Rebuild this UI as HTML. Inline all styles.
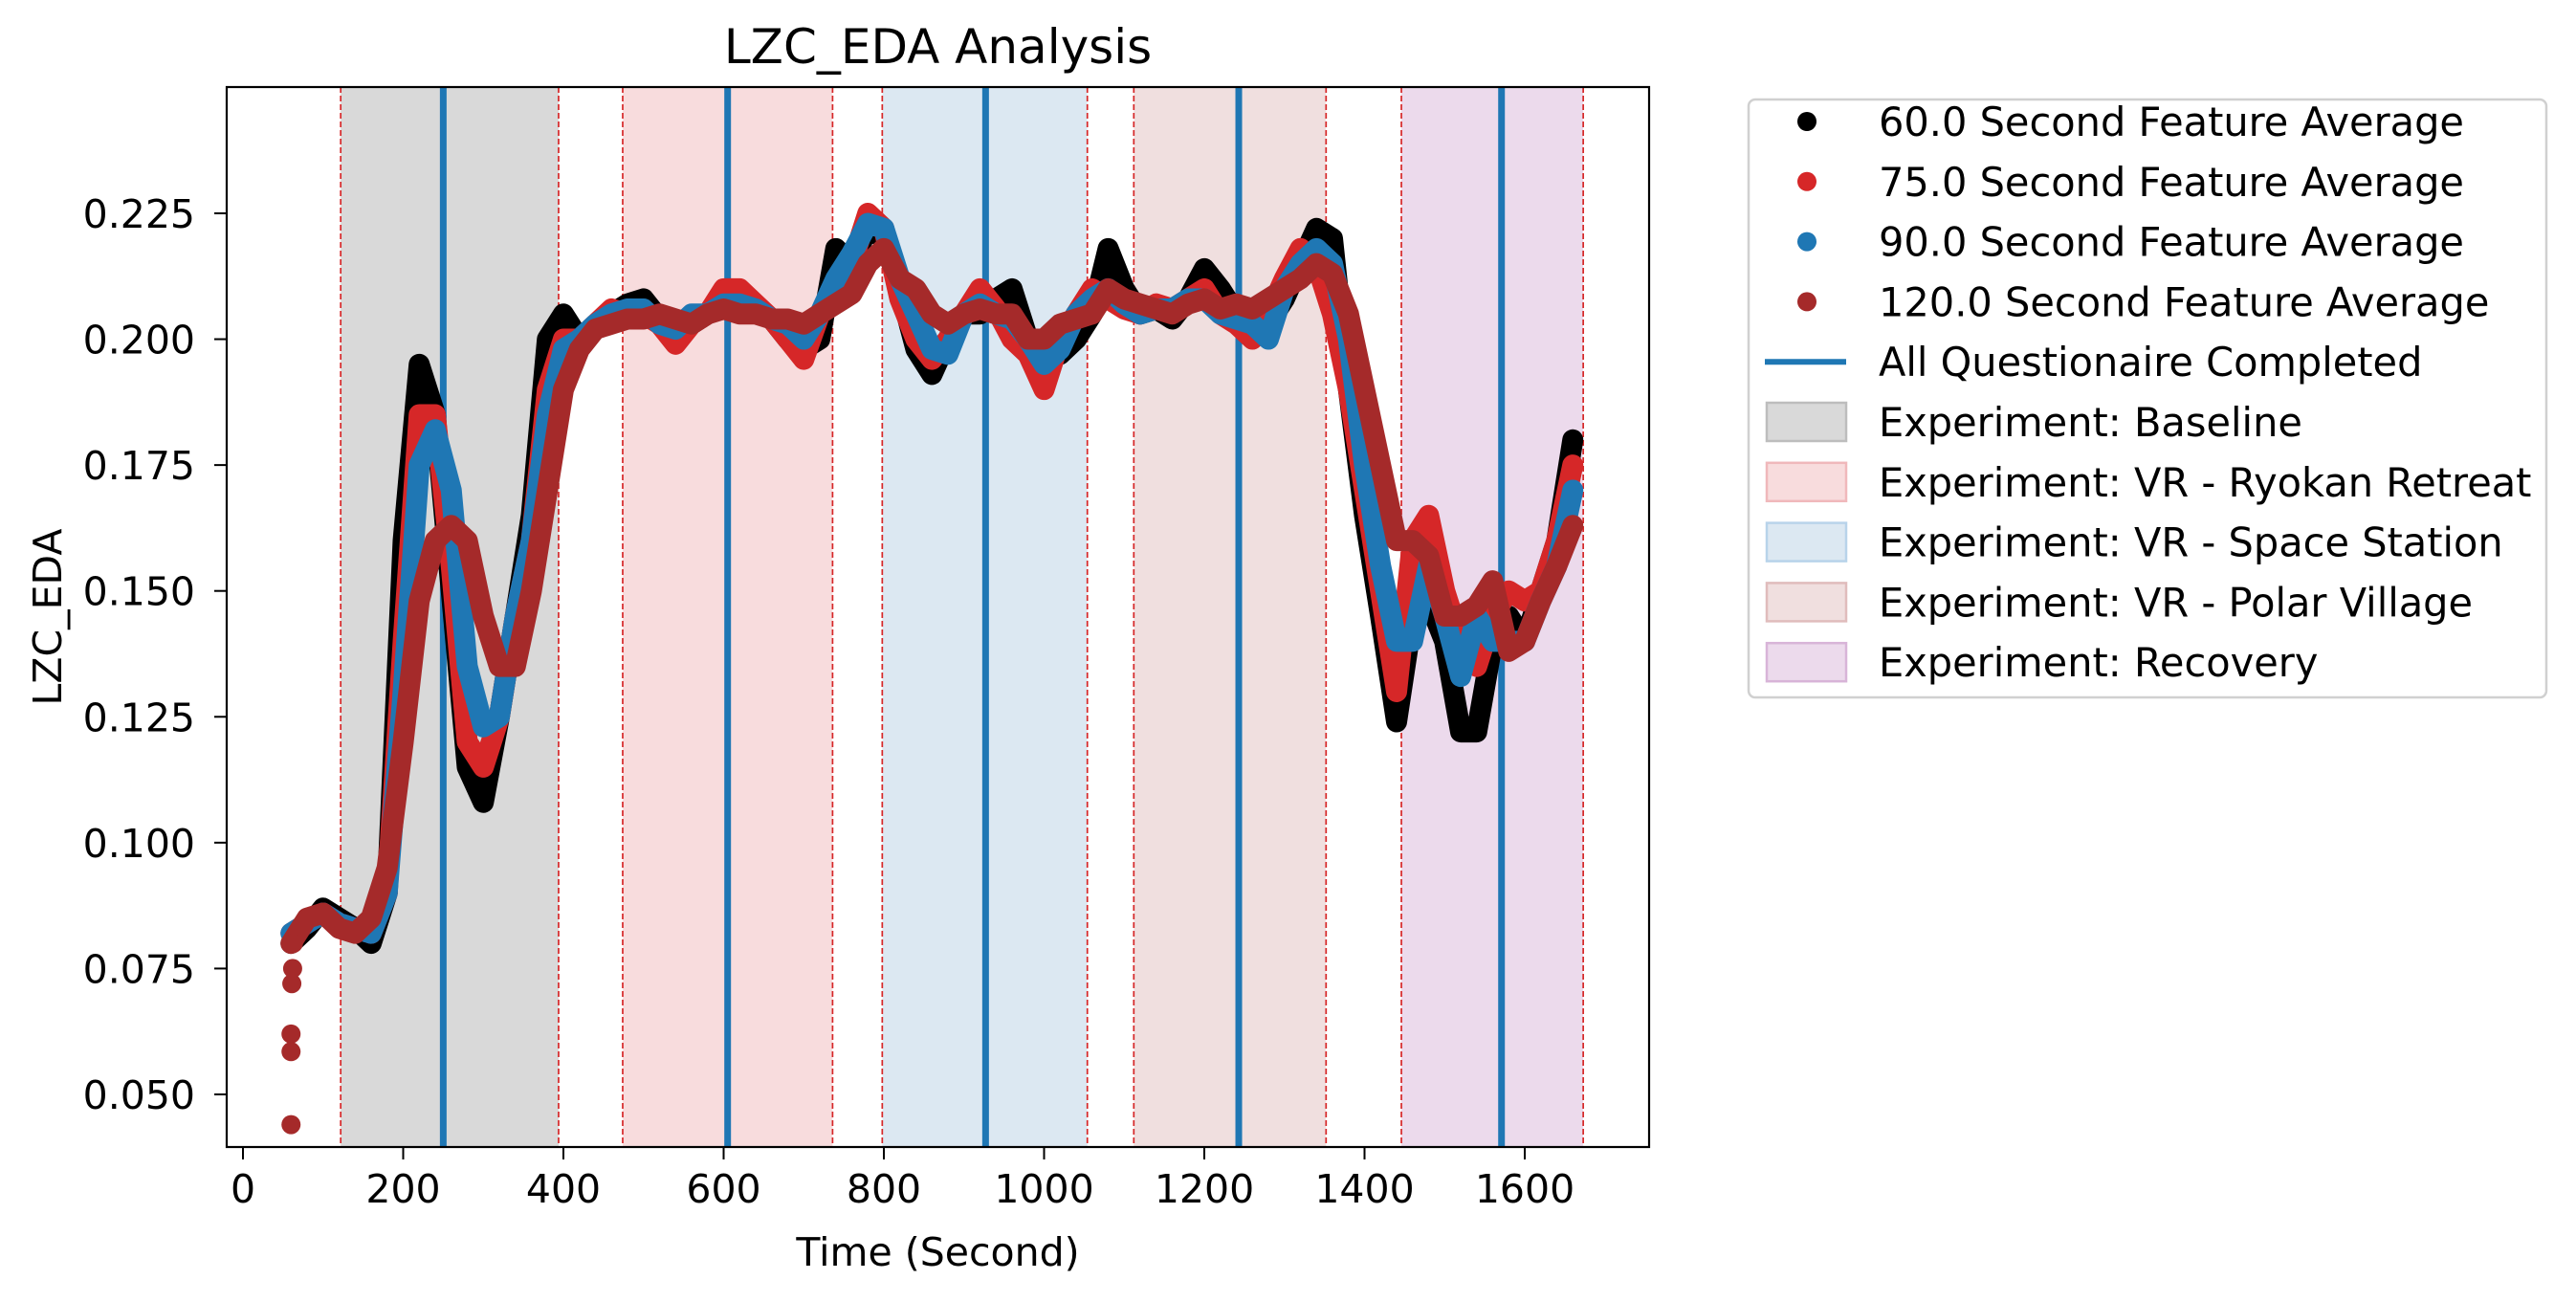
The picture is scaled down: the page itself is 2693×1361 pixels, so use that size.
<!DOCTYPE html>
<html><head><meta charset="utf-8"><style>
html,body{margin:0;padding:0;background:#fff;}
svg{display:block;font-family:"DejaVu Sans","Liberation Sans",sans-serif;}
</style></head><body>
<svg id="chart" width="2693" height="1361" viewBox="0 0 2693 1361" xmlns="http://www.w3.org/2000/svg">
<rect width="2693" height="1361" fill="#fff"/>
<g id="regions"></g>
<g id="vlines"></g>
<g id="series"></g>
<g id="axes"></g>
<g id="legend"></g>
</svg>
<script>
const times = [60,80,100,120,140,160,180,200,220,240,260,280,300,320,340,360,380,400,420,440,460,480,500,520,540,560,580,600,620,640,660,680,700,720,740,760,780,800,820,840,860,880,900,920,940,960,980,1000,1020,1040,1060,1080,1100,1120,1140,1160,1180,1200,1220,1240,1260,1280,1300,1320,1340,1360,1380,1400,1420,1440,1460,1480,1500,1520,1540,1560,1580,1600,1620,1640,1660];
const s60 = [0.08,0.083,0.087,0.085,0.083,0.08,0.09,0.16,0.195,0.185,0.15,0.115,0.108,0.125,0.145,0.165,0.2,0.205,0.2,0.202,0.205,0.207,0.208,0.204,0.2,0.203,0.205,0.207,0.208,0.206,0.204,0.2,0.198,0.2,0.218,0.215,0.222,0.22,0.21,0.198,0.193,0.2,0.205,0.205,0.208,0.21,0.2,0.198,0.197,0.2,0.205,0.218,0.21,0.205,0.206,0.204,0.208,0.214,0.21,0.205,0.203,0.203,0.208,0.215,0.222,0.22,0.19,0.165,0.145,0.124,0.145,0.148,0.14,0.122,0.122,0.14,0.145,0.14,0.15,0.16,0.18];
const s75 = [0.082,0.084,0.086,0.084,0.083,0.082,0.09,0.14,0.185,0.185,0.155,0.12,0.115,0.125,0.145,0.16,0.19,0.2,0.2,0.203,0.206,0.205,0.205,0.203,0.199,0.203,0.205,0.21,0.21,0.207,0.204,0.2,0.196,0.205,0.21,0.215,0.225,0.222,0.208,0.2,0.196,0.2,0.205,0.21,0.206,0.2,0.197,0.19,0.2,0.205,0.21,0.208,0.206,0.205,0.207,0.206,0.208,0.21,0.205,0.203,0.2,0.205,0.212,0.218,0.215,0.205,0.19,0.17,0.15,0.13,0.16,0.165,0.15,0.14,0.135,0.145,0.15,0.148,0.15,0.16,0.175];
const s90 = [0.082,0.084,0.086,0.084,0.083,0.082,0.09,0.13,0.175,0.182,0.17,0.135,0.123,0.125,0.145,0.16,0.185,0.198,0.2,0.203,0.205,0.206,0.206,0.203,0.202,0.205,0.205,0.207,0.207,0.206,0.204,0.203,0.2,0.205,0.212,0.217,0.223,0.222,0.212,0.205,0.198,0.197,0.205,0.207,0.205,0.204,0.2,0.195,0.198,0.205,0.208,0.21,0.207,0.205,0.206,0.206,0.208,0.208,0.205,0.204,0.203,0.2,0.21,0.215,0.218,0.215,0.2,0.175,0.155,0.14,0.14,0.155,0.145,0.133,0.145,0.14,0.14,0.14,0.148,0.155,0.17];
const s120 = [0.08,0.085,0.086,0.083,0.082,0.085,0.095,0.12,0.148,0.16,0.163,0.16,0.145,0.135,0.135,0.15,0.17,0.19,0.198,0.202,0.203,0.204,0.204,0.205,0.204,0.203,0.205,0.206,0.205,0.205,0.204,0.204,0.203,0.205,0.207,0.209,0.215,0.218,0.212,0.21,0.205,0.203,0.205,0.206,0.205,0.205,0.2,0.2,0.203,0.204,0.205,0.21,0.208,0.207,0.206,0.205,0.207,0.208,0.206,0.207,0.206,0.208,0.21,0.212,0.215,0.213,0.205,0.19,0.175,0.16,0.16,0.157,0.145,0.145,0.147,0.152,0.138,0.14,0.148,0.155,0.163];
const earlyTimes120 = [60,60,60,61,62,63];
const earlyValues120 = [0.044,0.0585,0.062,0.072,0.075,0.08];
const regionNames = ["Baseline","VR - Ryokan Retreat","VR - Space Station","VR - Polar Village","Recovery"];
const regionStart = [122,474,798,1112,1446];
const regionEnd = [394,736,1054,1352,1673];
const questionnaireTimes = [250,605,927,1243,1571];
const xTicks = [0,200,400,600,800,1000,1200,1400,1600];
const yTicks = [0.050,0.075,0.100,0.125,0.150,0.175,0.200,0.225];

const NS="http://www.w3.org/2000/svg";
const L=237,R=1724,T=91,B=1199;
const X=t=>254+t*0.8375;
const Y=v=>1144-(v-0.05)*5263;
function mk(tag,attrs,parent){const e=document.createElementNS(NS,tag);for(const k in attrs)e.setAttribute(k,attrs[k]);parent.appendChild(e);return e;}
const regionColors=["#d9d9d9","#f8dcdd","#dce8f2","#f0dfdf","#ecdaec"];
const regionSlugs=["baseline","ryokan-retreat","space-station","polar-village","recovery"];
const gR=document.getElementById('regions');
regionStart.forEach((s,i)=>{
  const r=mk('rect',{x:X(s),y:T,width:X(regionEnd[i])-X(s),height:B-T,fill:regionColors[i]},gR);
  
  
  [s,regionEnd[i]].forEach(t=>{
    const l=mk('line',{x1:X(t),x2:X(t),y1:T,y2:B,stroke:"#d62728","stroke-width":1.7,"stroke-dasharray":"6,3"},gR);
    
    
  });
});
const gV=document.getElementById('vlines');
questionnaireTimes.forEach(t=>{
  const l=mk('line',{x1:X(t),x2:X(t),y1:T,y2:B,stroke:"#1f77b4","stroke-width":7},gV);
  
  
});
const gS=document.getElementById('series');
function series(vals,color,name,extraT,extraV){
  const g=mk('g',{},gS);
  
  
  const pts=times.map((t,i)=>X(t)+','+Y(vals[i])).join(' ');
  mk('polyline',{points:pts,fill:'none',stroke:color,'stroke-width':22,'stroke-linejoin':'round','stroke-linecap':'round'},g);
  if(extraT){extraT.forEach((t,i)=>{
    const c=mk('circle',{cx:X(t),cy:Y(extraV[i]),r:10,fill:color},g);
    
    
  });}
}
series(s60,'#000000','series-60s');
series(s75,'#d62728','series-75s');
series(s90,'#1f77b4','series-90s');
series(s120,'#a52a2a','series-120s',earlyTimes120,earlyValues120);

const gA=document.getElementById('axes');
const fr=mk('rect',{x:L,y:T,width:R-L,height:B-T,fill:'none',stroke:'#000','stroke-width':2.2},gA);

xTicks.forEach(t=>{
  mk('line',{x1:X(t),x2:X(t),y1:B,y2:B+13,stroke:'#000','stroke-width':2},gA);
  const tx=mk('text',{x:X(t),y:B+58,'font-size':41,'text-anchor':'middle',fill:'#000'},gA);
  tx.textContent=t;
  
});
yTicks.forEach(v=>{
  mk('line',{x1:L-13,x2:L,y1:Y(v),y2:Y(v),stroke:'#000','stroke-width':2},gA);
  const tx=mk('text',{x:L-33,y:Y(v)+15,'font-size':41,'text-anchor':'end',fill:'#000'},gA);
  tx.textContent=v.toFixed(3);
  
});
const tt=mk('text',{x:(L+R)/2,y:66,'font-size':50,'text-anchor':'middle',fill:'#000'},gA);
tt.textContent='LZC_EDA Analysis';
const xl=mk('text',{x:(L+R)/2,y:1323,'font-size':41,'text-anchor':'middle',fill:'#000'},gA);
xl.textContent='Time (Second)';
const yl=mk('text',{x:0,y:0,'font-size':41,'text-anchor':'middle',fill:'#000',transform:'translate(64,645) rotate(-90)'},gA);
yl.textContent='LZC_EDA';

const gL=document.getElementById('legend');
const lb=mk('rect',{x:1828,y:104,width:834,height:625,rx:7,fill:'#fff',stroke:'#d0d0d0','stroke-width':2.5},gL);

const entries=[
 ['dot','#000000','60.0 Second Feature Average'],
 ['dot','#d62728','75.0 Second Feature Average'],
 ['dot','#1f77b4','90.0 Second Feature Average'],
 ['dot','#a52a2a','120.0 Second Feature Average'],
 ['line','#1f77b4','All Questionaire Completed'],
 ['box','#d9d9d9','Experiment: Baseline','#bdbdbd'],
 ['box','#f8dcdd','Experiment: VR - Ryokan Retreat','#f0b8bb'],
 ['box','#dce8f2','Experiment: VR - Space Station','#b8d3ea'],
 ['box','#f0dfdf','Experiment: VR - Polar Village','#e0bcbc'],
 ['box','#ecdaec','Experiment: Recovery','#d8b4d8']
];
entries.forEach((e,i)=>{
  const y=127+i*62.8;
  const g=mk('g',{},gL);
  
  
  if(e[0]==='dot')mk('circle',{cx:1889,cy:y,r:10,fill:e[1]},g);
  else if(e[0]==='line')mk('line',{x1:1845,x2:1930,y1:y,y2:y,stroke:e[1],'stroke-width':6},g);
  else mk('rect',{x:1847,y:y-20,width:83,height:40,fill:e[1],stroke:e[3],'stroke-width':2.5},g);
  const tx=mk('text',{x:1964,y:y+15,'font-size':41.5,fill:'#000'},g);
  tx.textContent=e[2];
});
</script>
</body></html>
